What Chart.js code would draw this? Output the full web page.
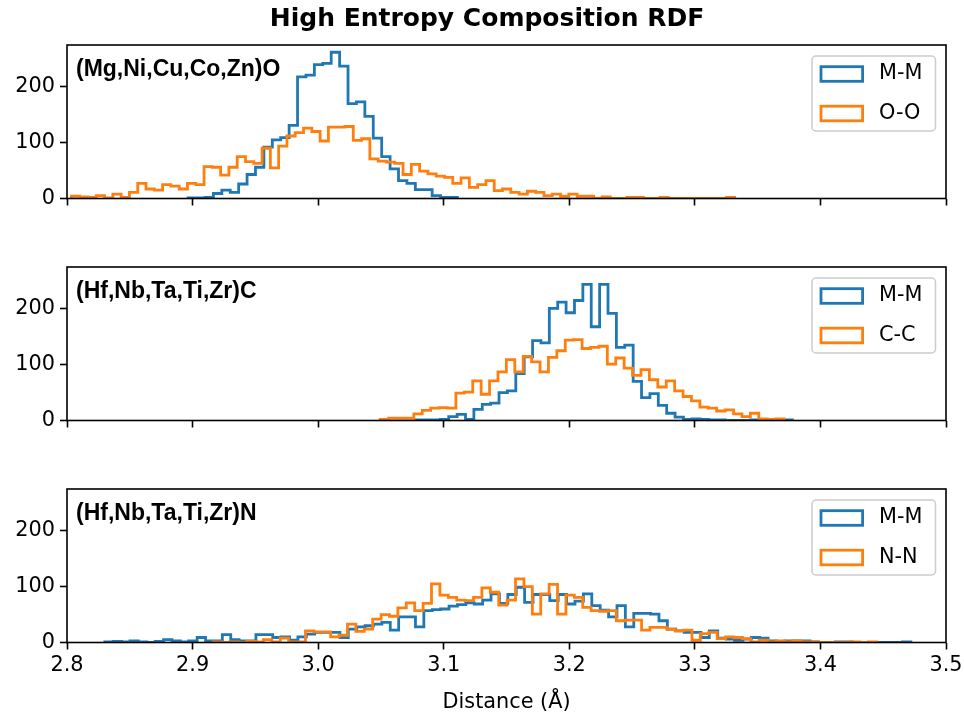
<!DOCTYPE html>
<html>
<head>
<meta charset="utf-8">
<title>High Entropy Composition RDF</title>
<script src="https://cdn.jsdelivr.net/npm/chart.js@4.4.1/dist/chart.umd.min.js"></script>
<style>
    html, body { margin: 0; padding: 0; background: #fff; }
    #wrap { position: relative; width: 964px; height: 719px; }
    #wrap canvas { position: absolute; left: 0; top: 0; }
</style>
</head>
<body>
<div id="wrap">
    <canvas id="oxideChart" width="964" height="719"></canvas>
    <canvas id="carbideChart" width="964" height="719"></canvas>
    <canvas id="nitrideChart" width="964" height="719"></canvas>
</div>
<script>
// axis ticks (shared by all three panels)
const xTicks = [2.8, 2.9, 3.0, 3.1, 3.2, 3.3, 3.4, 3.5];
const yTicks = [0, 100, 200];

// histogram counts per bin; each range is [first edge, last edge] in Angstrom
const oxideMMRange = [2.8965, 3.1109];
const oxideMM = [1, 1, 2, 9, 15, 11, 26, 43, 56, 92, 105, 109, 131, 218, 221, 240, 242, 262, 237, 170,
    173, 147, 108, 75, 53, 32, 27, 16, 16, 5, 2, 2];

const oxideOORange = [2.8035, 3.3317];
const oxideOO = [4, 3, 2, 5, 1, 8, 2, 11, 27, 17, 15, 25, 22, 17, 27, 25, 57, 56, 42, 56,
    75, 66, 63, 90, 55, 94, 112, 118, 126, 120, 103, 128, 128, 129, 104, 107, 71, 67, 65, 63,
    43, 61, 49, 44, 40, 38, 27, 37, 20, 25, 32, 14, 17, 11, 8, 13, 11, 5, 8, 4,
    8, 4, 4, 0, 3, 0, 0, 2, 2, 0, 0, 2, 0, 0, 0, 0, 0, 0, 0, 2];

const carbideMMRange = [3.0773, 3.3777];
const carbideMM = [1, 1, 1, 2, 7, 11, 2, 20, 29, 31, 50, 53, 84, 114, 143, 139, 201, 212, 193, 215,
    244, 168, 244, 192, 131, 135, 70, 41, 48, 27, 13, 6, 2, 3, 2, 1, 1, 0, 0, 0,
    1, 1, 1, 1, 1];

const carbideCCRange = [3.0494, 3.3710];
const carbideCC = [2, 4, 4, 4, 12, 18, 22, 23, 22, 49, 51, 71, 47, 71, 87, 109, 87, 115, 105, 87,
    113, 125, 144, 145, 129, 131, 133, 101, 112, 94, 81, 91, 73, 60, 71, 53, 43, 35, 24, 22,
    17, 19, 12, 7, 13, 3, 2, 3];

const nitrideMMRange = [2.8301, 3.4720];
const nitrideMM = [1, 2, 1, 3, 1, 0, 2, 5, 3, 1, 3, 9, 3, 3, 14, 5, 3, 3, 14, 14,
    9, 10, 4, 10, 15, 18, 18, 18, 9, 24, 28, 30, 33, 36, 22, 46, 46, 28, 57, 59,
    60, 65, 68, 71, 69, 76, 87, 70, 86, 99, 72, 86, 86, 75, 86, 69, 74, 87, 66, 58,
    46, 66, 28, 52, 52, 51, 39, 24, 21, 18, 18, 9, 21, 8, 6, 4, 6, 9, 8, 3,
    1, 3, 3, 3, 1, 0, 0, 1, 1, 0, 0, 0, 0, 0, 0, 1];

const nitrideNNRange = [2.9163, 3.4449];
const nitrideNN = [1, 0, 1, 0, 2, 1, 5, 1, 8, 1, 1, 21, 19, 19, 10, 13, 33, 20, 24, 42,
    50, 47, 62, 71, 57, 70, 105, 85, 81, 76, 75, 81, 98, 90, 67, 76, 114, 100, 51, 87,
    104, 51, 85, 81, 63, 57, 56, 57, 39, 40, 40, 22, 27, 27, 24, 21, 22, 4, 16, 18,
    7, 10, 9, 7, 1, 4, 1, 3, 1, 3, 1, 1, 0, 0, 0, 0, 1, 0, 1];

const BLUE = '#1f77b4';
const ORANGE = '#ff7f0e';

Chart.defaults.font.family = '"DejaVu Sans", sans-serif';
Chart.defaults.font.size = 20.8;
Chart.defaults.color = '#000';

// outline of a step histogram: up the first edge, across every bin, down the last edge
function histOutline(range, counts) {
    const w = (range[1] - range[0]) / counts.length;
    const pts = [{ x: range[0], y: 0 }];
    counts.forEach((c, i) => {
        pts.push({ x: range[0] + i * w, y: c });
        pts.push({ x: range[0] + (i + 1) * w, y: c });
    });
    pts.push({ x: range[1], y: 0 });
    return pts;
}

function histDataset(label, range, counts, color, order) {
    return {
        label: label,
        data: histOutline(range, counts),
        borderColor: color,
        backgroundColor: 'rgba(0,0,0,0)',
        borderWidth: 2.8,
        borderJoinStyle: 'miter',
        fill: false,
        pointRadius: 0,
        tension: 0,
        order: order
    };
}

// frame, composition label, legend box and (optionally) the figure title
const panelDecor = {
    id: 'panelDecor',
    afterDatasetsDraw(chart, args, opts) {
        const ctx = chart.ctx;
        const a = chart.chartArea;
        ctx.save();

        ctx.strokeStyle = '#000';
        ctx.lineWidth = 1.6;
        ctx.strokeRect(a.left, a.top, a.right - a.left, a.bottom - a.top);

        ctx.fillStyle = '#000';
        ctx.textBaseline = 'alphabetic';
        ctx.textAlign = 'left';
        ctx.font = 'bold 23px "Liberation Sans", Arial, sans-serif';
        ctx.fillText(opts.label, a.left + 9, a.top + 31);

        // legend
        const lx = a.right - 134, ly = a.top + 11, lw = 123.5, lh = 75, r = 4;
        ctx.beginPath();
        ctx.moveTo(lx + r, ly);
        ctx.arcTo(lx + lw, ly, lx + lw, ly + lh, r);
        ctx.arcTo(lx + lw, ly + lh, lx, ly + lh, r);
        ctx.arcTo(lx, ly + lh, lx, ly, r);
        ctx.arcTo(lx, ly, lx + lw, ly, r);
        ctx.closePath();
        ctx.fillStyle = 'rgba(255,255,255,0.8)';
        ctx.fill();
        ctx.strokeStyle = '#cccccc';
        ctx.lineWidth = 1.5;
        ctx.stroke();

        ctx.font = '20.8px "DejaVu Sans", sans-serif';
        ctx.textBaseline = 'middle';
        chart.data.datasets.forEach((ds, i) => {
            const cy = a.top + 29 + i * 39.5;
            ctx.strokeStyle = ds.borderColor;
            ctx.lineWidth = 2.8;
            ctx.strokeRect(lx + 9, cy - 7.3, 41.6, 14.6);
            ctx.fillStyle = '#000';
            ctx.fillText(ds.label, lx + 67, cy);
        });

        if (opts.title) {
            ctx.font = 'bold 25px "DejaVu Sans", sans-serif';
            ctx.textAlign = 'center';
            ctx.textBaseline = 'alphabetic';
            ctx.fillText(opts.title, 487, 25.5);
        }
        ctx.restore();
    }
};

function panelOptions(top, bottom, showX, decor) {
    const xHeight = showX ? 76.5 : 8;
    const gridStyle = {
        drawOnChartArea: false,
        drawTicks: true,
        tickLength: 7,
        tickColor: '#000',
        tickWidth: 1.6
    };
    return {
        responsive: false,
        animation: false,
        devicePixelRatio: 1,
        layout: { padding: { left: 0, right: 18, top: top, bottom: 719 - bottom - xHeight } },
        plugins: {
            legend: { display: false },
            tooltip: { enabled: false },
            panelDecor: decor
        },
        scales: {
            x: {
                type: 'linear',
                min: 2.8,
                max: 3.5,
                afterBuildTicks: s => { s.ticks = xTicks.map(v => ({ value: v })); },
                afterFit: s => {
                    s.height = xHeight;
                    s.paddingLeft = 0;
                    s.paddingRight = 0;
                },
                grid: gridStyle,
                border: { display: false },
                ticks: {
                    display: showX,
                    padding: 4,
                    maxRotation: 0,
                    autoSkip: false,
                    callback: v => Number(v).toFixed(1)
                },
                title: {
                    display: showX,
                    text: 'Distance (Å)',
                    padding: { top: 0, bottom: 4 }
                }
            },
            y: {
                type: 'linear',
                min: 0,
                max: 275,
                afterBuildTicks: s => { s.ticks = yTicks.map(v => ({ value: v })); },
                afterFit: s => {
                    s.width = 67;
                    s.paddingTop = 0;
                    s.paddingBottom = 0;
                },
                grid: gridStyle,
                border: { display: false },
                ticks: { padding: 5 }
            }
        }
    };
}

new Chart(document.getElementById('oxideChart'), {
    type: 'line',
    data: {
        datasets: [
            histDataset('M-M', oxideMMRange, oxideMM, BLUE, 1),
            histDataset('O-O', oxideOORange, oxideOO, ORANGE, 0)
        ]
    },
    options: panelOptions(45, 198.5, false, { label: '(Mg,Ni,Cu,Co,Zn)O', title: 'High Entropy Composition RDF' }),
    plugins: [panelDecor]
});

new Chart(document.getElementById('carbideChart'), {
    type: 'line',
    data: {
        datasets: [
            histDataset('M-M', carbideMMRange, carbideMM, BLUE, 1),
            histDataset('C-C', carbideCCRange, carbideCC, ORANGE, 0)
        ]
    },
    options: panelOptions(267, 420.5, false, { label: '(Hf,Nb,Ta,Ti,Zr)C' }),
    plugins: [panelDecor]
});

new Chart(document.getElementById('nitrideChart'), {
    type: 'line',
    data: {
        datasets: [
            histDataset('M-M', nitrideMMRange, nitrideMM, BLUE, 1),
            histDataset('N-N', nitrideNNRange, nitrideNN, ORANGE, 0)
        ]
    },
    options: panelOptions(489, 642.5, true, { label: '(Hf,Nb,Ta,Ti,Zr)N' }),
    plugins: [panelDecor]
});
</script>
</body>
</html>
